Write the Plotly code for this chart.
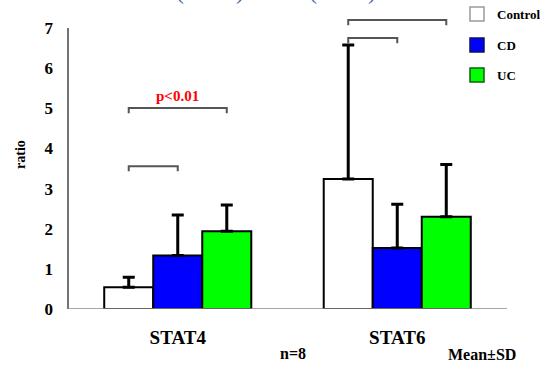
import plotly.graph_objects as go

# ---- data ----
categories = ["STAT4", "STAT6"]
series_names = ["Control", "CD", "UC"]
means = {
    "Control": [0.54, 3.24],
    "CD": [1.33, 1.52],
    "UC": [1.94, 2.30],
}
sds = {
    "Control": [0.25, 3.34],
    "CD": [1.01, 1.09],
    "UC": [0.65, 1.30],
}
y_ticks = [0, 1, 2, 3, 4, 5, 6, 7]
# significance brackets: (category index, from series, to series, level)
brackets = [
    (0, "Control", "CD", 3.56),
    (0, "Control", "UC", 5.01),
    (1, "Control", "CD", 6.75),
    (1, "Control", "UC", 7.20),
]
p_label = "p<0.01"

# ---- styling ----
colors = {"Control": "#FFFFFF", "CD": "#0000FF", "UC": "#00FF00"}
legend_borders = {"Control": "#9a9a9a", "CD": "#101060", "UC": "#106010"}
SERIF = "Liberation Serif, Times New Roman, serif"
W, H = 548, 365
ML, MR, MT, MB = 68, 41, 8, 56
BARGAP = 0.33
Y_MAX = 7.5

fig = go.Figure()
for name in series_names:
    fig.add_trace(go.Bar(
        name=name,
        x=categories,
        y=means[name],
        marker=dict(color=colors[name], line=dict(color="#000000", width=2)),
        error_y=dict(type="data", symmetric=False, array=sds[name],
                     arrayminus=[0] * len(categories),
                     color="#000000", thickness=3, width=6),
        showlegend=False,
    ))

# positions of bar centres within a group (in category units)
bar_w = (1 - BARGAP) / len(series_names)
offset = {n: (i - (len(series_names) - 1) / 2) * bar_w for i, n in enumerate(series_names)}

shapes = []
drop = 0.13
for ci, a, b, lvl in brackets:
    x0 = ci + offset[a]
    x1 = ci + offset[b]
    shapes.append(dict(
        type="path", xref="x", yref="y",
        path=f"M {x0} {lvl - drop} L {x0} {lvl} L {x1} {lvl} L {x1} {lvl - drop}",
        line=dict(color="#555555", width=2),
    ))

# axis lines
shapes.append(dict(type="line", xref="paper", yref="y", x0=0, x1=0, y0=0, y1=7,
                   line=dict(color="#444444", width=1.5)))
shapes.append(dict(type="line", xref="paper", yref="y", x0=0, x1=1, y0=0, y1=0,
                   line=dict(color="#888888", width=1.5)))

pw = W - ML - MR
ph = H - MT - MB


def px(x):
    return (x - ML) / pw


def py(y):
    return (H - MB - y) / ph


def label(text, x, y, size, color="#000000", **kw):
    return dict(text=f"<b>{text}</b>", xref="paper", yref="paper",
                x=px(x), y=py(y), xanchor=kw.pop("xanchor", "center"),
                yanchor=kw.pop("yanchor", "middle"), showarrow=False,
                borderpad=0,
                font=dict(family=SERIF, size=size, color=color), **kw)


# legend keys
annotations = []
legend_rows = {"Control": 14, "CD": 45, "UC": 75}
for name in series_names:
    yc = legend_rows[name]
    shapes.append(dict(type="rect", xref="paper", yref="paper",
                       x0=px(470), x1=px(484), y0=py(yc + 7), y1=py(yc - 7),
                       fillcolor=colors[name],
                       line=dict(color=legend_borders[name], width=1.5)))
    annotations.append(label(name, 496, yc, 13, xanchor="left"))

# p-value label over the STAT4 Control-UC bracket
ci, a, b, lvl = brackets[1]
annotations.append(dict(text=f"<b>{p_label}</b>", xref="x", yref="y",
                        x=ci + (offset[a] + offset[b]) / 2, y=lvl + 0.06,
                        xanchor="center", yanchor="bottom", showarrow=False,
                        font=dict(family=SERIF, size=15, color="#FF0000")))

annotations += [
    label("ratio", 20, 155, 14, textangle=-90),
    label("n=8", 293, 353, 16),
    label("Mean±SD", 482, 354, 16),
]

# partly visible heading above the chart
for ch, xc in [("(", 180), (")", 240), ("(", 313), (")", 372)]:
    annotations.append(dict(text=ch, xref="paper", yref="paper", x=px(xc), y=py(6),
                            xanchor="center", yanchor="bottom", showarrow=False,
                            font=dict(family=SERIF, size=24, color="#3F6AA8")))

fig.update_layout(
    width=W, height=H,
    margin=dict(l=ML, r=MR, t=MT, b=MB, pad=0, autoexpand=False),
    paper_bgcolor="#FFFFFF", plot_bgcolor="#FFFFFF",
    barmode="group", bargap=BARGAP, bargroupgap=0,
    shapes=shapes, annotations=annotations,
    xaxis=dict(range=[-0.5, 1.5], showline=False, showgrid=False, zeroline=False,
               ticks="", ticklabelstandoff=15,
               tickfont=dict(family=SERIF, size=19, color="#000000", weight="bold"),
               tickvals=[0, 1], ticktext=categories),
    yaxis=dict(range=[0, Y_MAX], showline=False, showgrid=False, zeroline=False,
               ticks="", ticklabelstandoff=14,
               tickvals=y_ticks, ticktext=[str(v) for v in y_ticks],
               tickfont=dict(family=SERIF, size=17, color="#000000", weight="bold")),
    font=dict(family=SERIF),
)

fig.write_html("out.html")
